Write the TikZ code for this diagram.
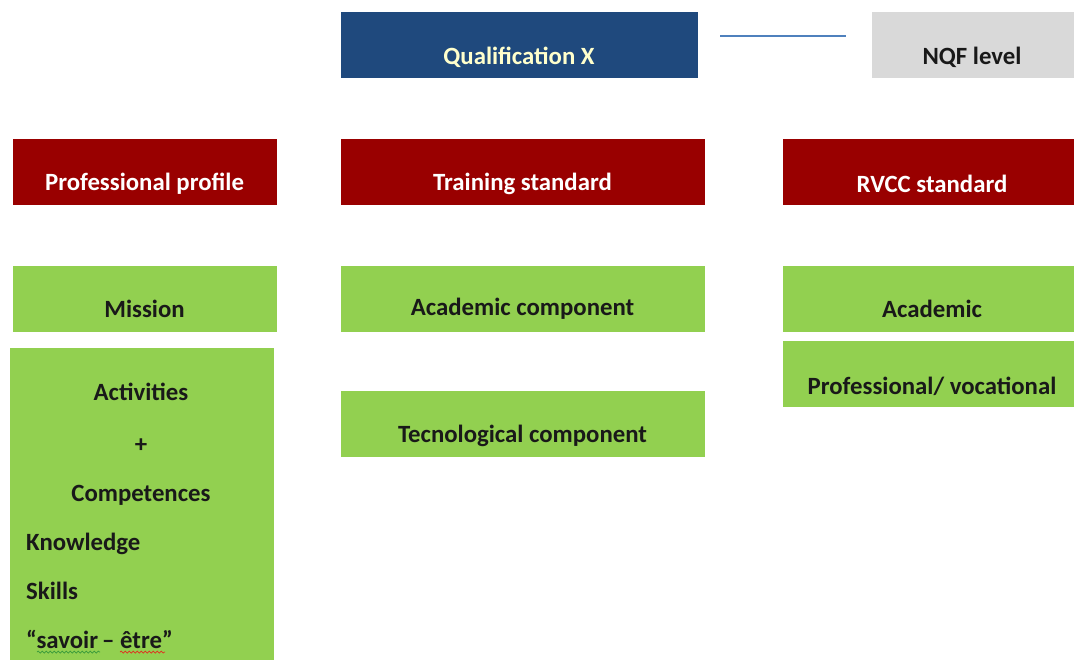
\documentclass[tikz,border=0pt]{standalone}
\usepackage{fontspec}
\setmainfont{Carlito}
\usetikzlibrary{decorations.pathmorphing}
\definecolor{qblue}{HTML}{1F497D}
\definecolor{qcream}{HTML}{FFFFCC}
\definecolor{lineblue}{HTML}{4F81BD}
\definecolor{qgray}{HTML}{D9D9D9}
\definecolor{qred}{HTML}{990000}
\definecolor{qgreen}{HTML}{92D050}
\definecolor{wavegreen}{HTML}{3A9A3A}
\definecolor{wavered}{HTML}{E03020}
\tikzset{
  box/.style={draw=white, line width=0.8pt, anchor=north west, inner sep=0pt},
  bluebox/.style={box, fill=qblue},
  graybox/.style={box, fill=qgray},
  redbox/.style={box, fill=qred},
  greenbox/.style={box, fill=qgreen},
  txt/.style={font=\fontsize{24.8}{28}\selectfont\bfseries, inner sep=0pt},
  wtxt/.style={txt, text=white},
  ktxt/.style={txt, text=black!90},
  wave/.style={decorate, decoration={snake, amplitude=1pt, segment length=4pt}, line width=0.7pt},
}
\begin{document}
\begin{tikzpicture}[x=1pt,y=-1pt]
\useasboundingbox (0,0) rectangle (1074,659);
% top row
\node[bluebox, minimum width=358, minimum height=67] (qual) at (340,11) {};
\node[txt, text=qcream] (qualt) at (519,57) {Qualification X};
\node[graybox, minimum width=203, minimum height=67] (nqf) at (871,11) {};
\node[ktxt] (nqft) at (972,57) {NQF level};
\coordinate (la) at (720,36);
\coordinate (lb) at (846,36);
\draw[lineblue, line width=1.2pt] (la) -- (lb);
% red row
\node[redbox, minimum width=265, minimum height=67] (prof) at (12,138) {};
\node[wtxt] (proft) at (144.5,184) {Professional profile};
\node[redbox, minimum width=365, minimum height=67] (train) at (340,138) {};
\node[wtxt] (traint) at (522.5,184) {Training standard};
\node[redbox, minimum width=292, minimum height=67] (rvcc) at (782,138) {};
\node[wtxt] (rvcct) at (932,184) {RVCC standard};
% green row
\node[greenbox, minimum width=265, minimum height=67] (mission) at (12,265) {};
\node[ktxt] (missiont) at (144.5,309) {Mission};
\node[greenbox, minimum width=365, minimum height=67] (acad) at (340,265) {};
\node[ktxt] (acadt) at (522.5,309) {Academic component};
\node[greenbox, minimum width=292, minimum height=67] (acad2) at (782,265) {};
\node[ktxt] (acad2t) at (932,309) {Academic};
\node[greenbox, minimum width=292, minimum height=67] (prov) at (782,340) {};
\node[ktxt] (provt) at (932,386) {Professional/ vocational};
\node[greenbox, minimum width=365, minimum height=67] (tech) at (340,390) {};
\node[ktxt] (techt) at (522.5,436) {Tecnological component};
% big left box
\node[greenbox, minimum width=265, minimum height=314] (act) at (9,347) {};
\node[ktxt] (actt) at (141,392) {Activities};
\node[ktxt] (plus) at (141,446) {+};
\node[ktxt] (comp) at (141,495) {Competences};
\node[ktxt, anchor=west] (know) at (26,544) {Knowledge};
\node[ktxt, anchor=west] (skills) at (26,591) {Skills};
\node[ktxt, anchor=west] (savoir) at (26,639) {“savoir\,– être”};
\coordinate (w1a) at (37,652);
\coordinate (w1b) at (100,652);
\coordinate (w2a) at (120,652);
\coordinate (w2b) at (165,652);
\draw[wave, wavegreen] (w1a) -- (w1b);
\draw[wave, wavered] (w2a) -- (w2b);
\end{tikzpicture}
\end{document}
